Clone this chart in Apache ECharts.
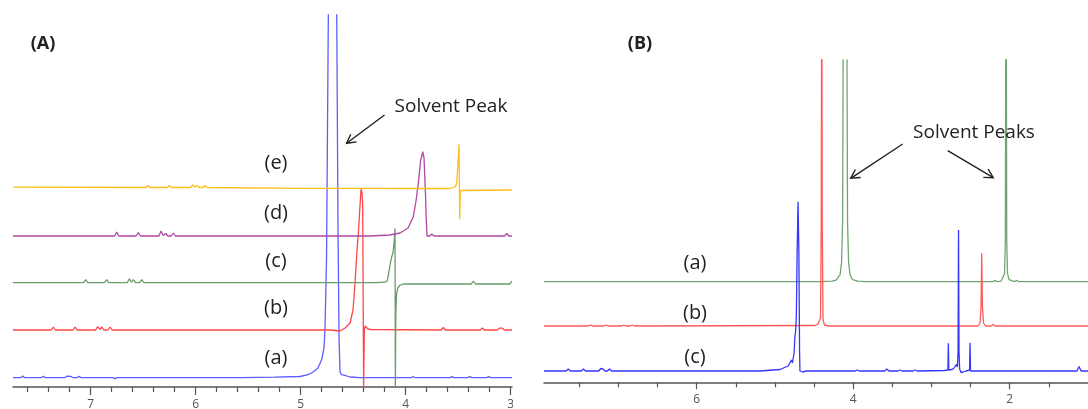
<!DOCTYPE html>
<html><head><meta charset="utf-8">
<script src="https://cdn.jsdelivr.net/npm/echarts@6/dist/echarts.min.js"></script>
<style>html,body{margin:0;padding:0;background:#fff;} #c{width:1088px;height:409px;}</style>
</head><body><div id="c"></div>
<script>
// ---------- DATA: [chemical shift (ppm), intensity above own baseline (a.u.)] ----------
// Panel A
const specA_a = [[7.74,0],[7.668,0],[7.648,1.8],[7.628,0],[7.471,0],[7.451,1.5],[7.431,0],[7.249,0],[7.229,1.5],[7.21,0.3],[7.19,1.3],[7.17,0],[7.131,0],[7.111,1.3],[7.091,0],[6.79,0],[6.77,-1],[6.75,0],
  [5.58,0],[5.25,0.5],[5.007,1.2],[4.93,3],[4.895,5],[4.86,7.5],[4.835,10],[4.816,14.4],[4.8,18.4],[4.788,17],[4.778,30],[4.769,48],[4.754,120],[4.737,363],[4.717,430],[4.697,450],[4.677,430],[4.657,363],[4.645,150],[4.635,40],[4.626,6],[4.612,3],[4.588,2.5],[4.53,0.7],[4.435,0],
  [3.95,0],[3.93,1.2],[3.91,0],[3.58,0],[3.56,1],[3.54,0],[3.41,0],[3.39,1],[3.37,0],[3.23,0],[3.21,1],[3.19,0],[2.988,0]];
const specA_b = [[7.74,0],[7.376,0],[7.356,3],[7.336,0],[7.169,0],[7.149,3],[7.129,0],[6.953,0],[6.933,3.5],[6.914,0.5],[6.895,3],[6.875,0],[6.836,0],[6.816,3],[6.796,0],
  [4.72,0],[4.626,-1],[4.578,2],[4.53,7],[4.502,20],[4.483,47],[4.464,80],[4.451,97],[4.435,125],[4.426,140.7],[4.417,138],[4.41,125],[4.401,-57],[4.394,0],[4.388,4],[4.371,5],[4.359,1],[4.33,0.5],
  [3.662,0],[3.642,2.5],[3.622,0],[3.29,0],[3.27,2],[3.25,0],[3.129,0],[3.109,1.8],[3.095,0.3],[3.08,1.8],[3.06,0],[2.988,0]];
const specA_c = [[7.74,0],[7.068,0],[7.048,3],[7.028,0],[6.868,0],[6.848,3],[6.828,0],[6.652,0],[6.632,4],[6.613,0.5],[6.594,3],[6.574,0],[6.534,0],[6.514,3],[6.494,0],
  [4.29,0],[4.197,0.5],[4.175,2],[4.159,12],[4.145,20],[4.133,26],[4.121,30],[4.107,45],[4.102,54.4],[4.099,-104.3],[4.094,-30],[4.087,-10.6],[4.075,-5],[4.054,-2.5],[4.023,-1.3],
  [3.376,-1.3],[3.356,1.7],[3.336,-1.3],[3.01,-1.3],[2.988,1.5]];
const specA_d = [[7.74,0],[6.772,0],[6.752,4],[6.732,0],[6.567,0],[6.547,3.5],[6.527,0],[6.35,0],[6.33,5],[6.31,0.5],[6.286,2.5],[6.266,0],[6.233,0],[6.213,3],[6.193,0],
  [4.34,0],[4.15,1],[4.054,3],[3.978,8],[3.928,19.3],[3.902,35],[3.88,52.7],[3.859,75],[3.838,84.3],[3.826,78],[3.811,40],[3.806,20],[3.801,20],[3.797,0],[3.772,0],[3.752,2],[3.732,0],
  [3.058,0],[3.038,2.5],[3.018,0],[2.988,0]];
const specA_e = [[7.74,0.3],[6.477,0],[6.457,2],[6.437,0],[6.271,0],[6.251,2],[6.231,0],[6.049,0],[6.029,2.5],[6.007,0.5],[5.985,2],[5.965,0],[5.931,0],[5.911,2],[5.891,0],[5.0,-0.8],
  [3.578,-1],[3.526,1],[3.514,4.5],[3.502,5],[3.492,43],[3.486,-32],[3.48,-3],[3.464,-1.5],[2.988,-2.5]];
const offsetsA = [9.3, 57, 104.3, 151, 199.5];           // stacking offsets (a)..(e)
const labelsA  = ['(a)','(b)','(c)','(d)','(e)'];
const colorsA  = ['#5c5cff','#ff4646','#6a9c6a','#b048a2','#ffbe18'];
const ticksA_major = [3,4,5,6,7];
const ticksA_minor = [3.2,3.4,3.6,3.8,4.2,4.4,4.6,4.8,5.2,5.4,5.6,5.8,6.2,6.4,6.6,6.8,7.2,7.4,7.6];

// Panel B
const specB_a = [[7.95,0],[4.423,0],[4.27,0.5],[4.218,1.5],[4.193,3],[4.167,7],[4.148,20],[4.135,60],[4.125,300],[4.103,600],[4.082,300],[4.072,60],[4.059,20],[4.04,7],[4.018,3],[3.989,1.5],[3.938,0.5],[3.85,0],
  [2.215,0],[2.188,1.5],[2.161,0],[2.111,0.5],[2.086,2],[2.066,8],[2.056,40],[2.047,400],[2.038,40],[2.028,8],[2.009,2],[1.99,0.5],[1.938,0],[1.911,1.5],[1.884,0],[1.0,0]];
const specB_b = [[7.95,0],[7.384,0],[7.357,1.2],[7.33,0],[7.184,0],[7.157,1],[7.13,0],[6.959,0],[6.932,1],[6.905,0],[6.848,0],[6.821,1],[6.794,0],
  [4.487,0.5],[4.449,2],[4.432,3],[4.417,8],[4.408,100],[4.401,400],[4.395,100],[4.385,6],[4.366,1],[4.32,0],
  [2.405,0],[2.379,3],[2.366,20],[2.358,72.7],[2.349,20],[2.335,3],[2.31,0],[2.24,0],[2.213,1.5],[2.186,0],[1.0,0]];
const specB_c = [[7.95,0],[7.667,0],[7.64,2],[7.613,0],[7.473,0],[7.446,2],[7.419,0],[7.251,0],[7.224,2.5],[7.211,0.5],[7.198,2],[7.171,0],[7.14,0],[7.113,2],[7.086,0],
  [5.19,0],[4.935,1.5],[4.831,5],[4.788,11],[4.776,8],[4.755,18],[4.745,34],[4.735,40],[4.726,55],[4.716,120],[4.704,169.3],[4.694,120],[4.685,20],[4.68,0],[4.671,-1.5],[4.646,-1],[4.6,0],
  [3.973,0],[3.946,1],[3.919,0],[3.598,0],[3.571,2],[3.544,0],[3.428,0],[3.401,1],[3.374,0],[3.236,0],[3.209,1],[3.182,0],
  [2.83,0.5],[2.79,1],[2.784,27.7],[2.778,1],[2.737,1.5],[2.711,3],[2.68,6.7],[2.668,4],[2.66,20],[2.654,141],[2.648,20],[2.64,2],[2.622,-1.5],[2.596,-1],[2.558,0],[2.513,1],[2.507,28.3],[2.501,0],
  [1.142,0],[1.115,4.5],[1.088,0],[1.0,0]];
const offsetsB = [100.6, 56.3, 11.3];                    // stacking offsets (a)..(c)
const labelsB  = ['(a)','(b)','(c)'];
const colorsB  = ['#72a472','#ff5a5a','#3535ff'];
const ticksB_major = [2,4,6];
const ticksB_minor = [1.5,2.5,3,3.5,4.5,5,5.5,6.5,7,7.5];

// ---------- CHART ----------
const FONT = '"Open Sans","Noto Sans",sans-serif';
const chart = echarts.init(document.getElementById('c'), null, {renderer:'canvas'});

function line(data, off, color, xi, yi){
  return {type:'line', xAxisIndex:xi, yAxisIndex:yi, data:data.map(p=>[p[0], p[1]+off]),
    symbol:'none', showSymbol:false, clip:true, silent:true, smooth:false,
    lineStyle:{color:color, width:1.3}};
}
function xAxisDef(grid, min, max, ticks, len, showLine, labels, margin){
  return {gridIndex:grid, type:'value', position:'bottom', min:min, max:max, inverse:true,
    axisLine:{show:showLine, onZero:false, lineStyle:{color:'#555', width:1.5}},
    axisTick:{show:true, length:len, customValues:ticks, lineStyle:{color:'#555', width:1.2}},
    axisLabel:labels ? {show:true, customValues:labels, margin:margin, fontSize:12, color:'#555', fontFamily:FONT} : {show:false},
    splitLine:{show:false}};
}
function arrow(x1,y1,x2,y2){
  const dx=x2-x1, dy=y2-y1, L=Math.hypot(dx,dy), ux=dx/L, uy=dy/L, h=10, a=0.5;
  const r=(c,s)=>[x2-h*(c*ux - s*uy), y2-h*(s*ux + c*uy)];
  const p1=r(Math.cos(a),Math.sin(a)), p2=r(Math.cos(a),-Math.sin(a));
  return [
    {type:'line', shape:{x1,y1,x2,y2}, style:{stroke:'#222', lineWidth:1.4}, z:50},
    {type:'polyline', shape:{points:[p1,[x2,y2],p2]}, style:{stroke:'#222', lineWidth:1.4, fill:null}, z:50}
  ];
}
function txt(s, x, y, size, bold){
  return {type:'text', z:50, style:{text:s, x:x, y:y, textAlign:'center', textVerticalAlign:'middle',
    font:(bold?'bold ':'')+size+'px '+FONT, fill:'#222'}};
}

const seriesA = [specA_a,specA_b,specA_c,specA_d,specA_e].map((d,i)=>line(d, offsetsA[i], colorsA[i], 0, 0));
const seriesB = [specB_a,specB_b,specB_c].map((d,i)=>line(d, offsetsB[i], colorsB[i], 2, 1));

const labelYA = [358, 308, 261, 213, 163];
const labelYB = [263, 313, 357];

const graphics = [
  txt('(A)', 43, 44, 18, true),
  txt('(B)', 640, 44, 18, true),
  txt('Solvent Peak', 451, 107, 19, false),
  txt('Solvent Peaks', 974, 133, 19, false),
  ...labelsA.map((s,i)=>txt(s, 276, labelYA[i], 20, false)),
  ...labelsB.map((s,i)=>txt(s, 695, labelYB[i], 20, false)),
  ...arrow(384.5,115,346.6,143.3),
  ...arrow(902.7,144,850.7,178.3),
  ...arrow(947.7,150.7,993.3,177.7),
  {type:'rect', z:100, shape:{x:513, y:392, width:28, height:17}, style:{fill:'#fff'}}
];

chart.setOption({
  animation:false,
  backgroundColor:'#fff',
  grid:[
    {left:13, right:1088-512, top:15, bottom:409-387, containLabel:false, outerBoundsMode:'none'},
    {left:544, right:0, top:60, bottom:409-382.3, containLabel:false, outerBoundsMode:'none'}
  ],
  xAxis:[
    xAxisDef(0, 2.988, 7.74, ticksA_major, 8, true, ticksA_major, 12),
    xAxisDef(0, 2.988, 7.74, ticksA_minor, 5, false, null, 0),
    xAxisDef(1, 1.0, 7.95, ticksB_major, 7, true, ticksB_major, 11),
    xAxisDef(1, 1.0, 7.95, ticksB_minor, 5, false, null, 0)
  ],
  yAxis:[
    {gridIndex:0, type:'value', min:0, max:372, show:false},
    {gridIndex:1, type:'value', min:0, max:322.3, show:false}
  ],
  series:[...seriesA, ...seriesB],
  graphic:graphics
});
</script></body></html>
